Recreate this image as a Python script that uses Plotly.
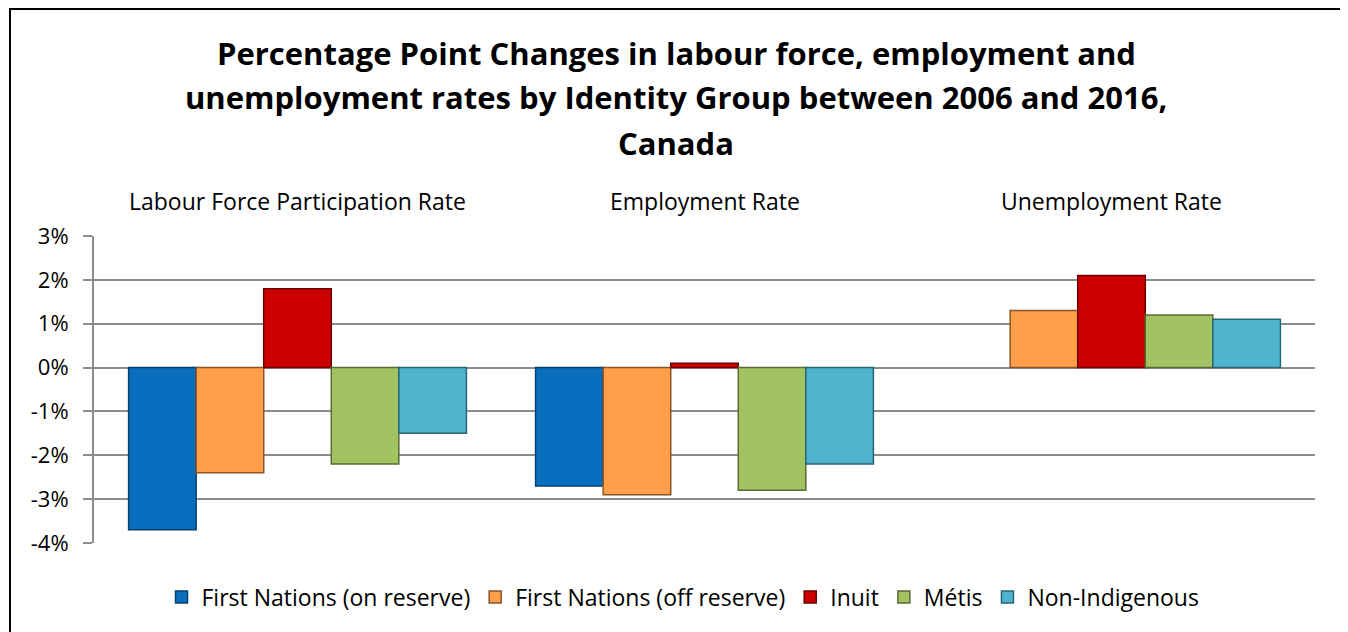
import plotly.graph_objects as go

categories = ["Labour Force Participation Rate", "Employment Rate", "Unemployment Rate"]
series_names = ["First Nations (on reserve)", "First Nations (off reserve)", "Inuit", "Métis", "Non-Indigenous"]
fn_on_reserve = [-3.7, -2.7, None]
fn_off_reserve = [-2.4, -2.9, 1.3]
inuit = [1.8, 0.1, 2.1]
metis = [-2.2, -2.8, 1.2]
non_indigenous = [-1.5, -2.2, 1.1]
tick_vals = [3, 2, 1, 0, -1, -2, -3, -4]
tick_text = ["3%", "2%", "1%", "0%", "-1%", "-2%", "-3%", "-4%"]
title_lines = [
    "Percentage Point Changes in labour force, employment and",
    "unemployment rates by Identity Group between 2006 and 2016,",
    "Canada",
]

colors = ["#0A6EBF", "#FF9F4A", "#CC0000", "#A3C262", "#4FB5CF"]
edge = ["#06406F", "#8A5428", "#6E0000", "#5A6B36", "#2A6575"]
values = [fn_on_reserve, fn_off_reserve, inuit, metis, non_indigenous]

FONT = "'Open Sans', Calibri, sans-serif"

fig = go.Figure()
for name, vals, c, e in zip(series_names, values, colors, edge):
    fig.add_trace(go.Bar(
        name=name, x=categories, y=vals,
        marker=dict(color=c, line=dict(color=e, width=1.5)),
    ))

# page offset (body margin) and geometry in screen pixels
OFF = 8
W, H = 1348 - OFF, 632 - OFF
L, R, T, B = 94 - OFF, 1348 - 1315, 236 - OFF, 632 - 543
pw, ph = W - L - R, H - T - B

def py(y):  # screen pixel y -> paper y
    return (H - B - (y - OFF)) / ph

def px(x):
    return ((x - OFF) - L) / pw

annotations = []
for line, yy in zip(title_lines, [53, 97, 143]):
    annotations.append(dict(
        text=line, xref="paper", yref="paper", x=px(676), y=py(yy),
        xanchor="center", yanchor="middle", showarrow=False,
        font=dict(family=FONT, size=31, color="#000000", weight="bold"),
    ))
for cat in categories:
    annotations.append(dict(
        text=cat, xref="x", yref="paper", x=cat, y=py(201),
        xanchor="center", yanchor="middle", showarrow=False,
        font=dict(family=FONT, size=23, color="#000000"),
    ))

fig.update_layout(
    width=W, height=H,
    margin=dict(l=L, r=R, t=T, b=B, autoexpand=False),
    paper_bgcolor="white", plot_bgcolor="white",
    barmode="group", bargap=0.17, bargroupgap=0.0,
    font=dict(family=FONT, size=22, color="#000000"),
    showlegend=True,
    legend=dict(
        orientation="h", x=px(683), xanchor="center", y=py(597), yanchor="middle",
        font=dict(family=FONT, size=23, color="#000000"),
        itemwidth=30, tracegroupgap=0,
    ),
    annotations=annotations,
    shapes=[dict(
        type="rect", xref="paper", yref="paper",
        x0=px(10), x1=px(1341), y0=py(660), y1=py(9),
        line=dict(color="#000000", width=2), fillcolor="rgba(0,0,0,0)", layer="below",
    )],
)
fig.update_xaxes(
    showticklabels=False, showgrid=False, zeroline=False, showline=False,
    categoryorder="array", categoryarray=categories,
)
fig.update_yaxes(
    range=[-4, 3], tickvals=tick_vals, ticktext=tick_text,
    showgrid=True, gridcolor="#8C8C8C", gridwidth=2,
    zeroline=True, zerolinecolor="#8C8C8C", zerolinewidth=2,
    showline=True, linecolor="#8C8C8C", linewidth=2,
    ticks="outside", ticklen=9, tickcolor="#8C8C8C", tickwidth=2,
    tickfont=dict(family=FONT, size=22, color="#000000"),
    ticklabelstandoff=10,
)

fig.write_html("out.html")
